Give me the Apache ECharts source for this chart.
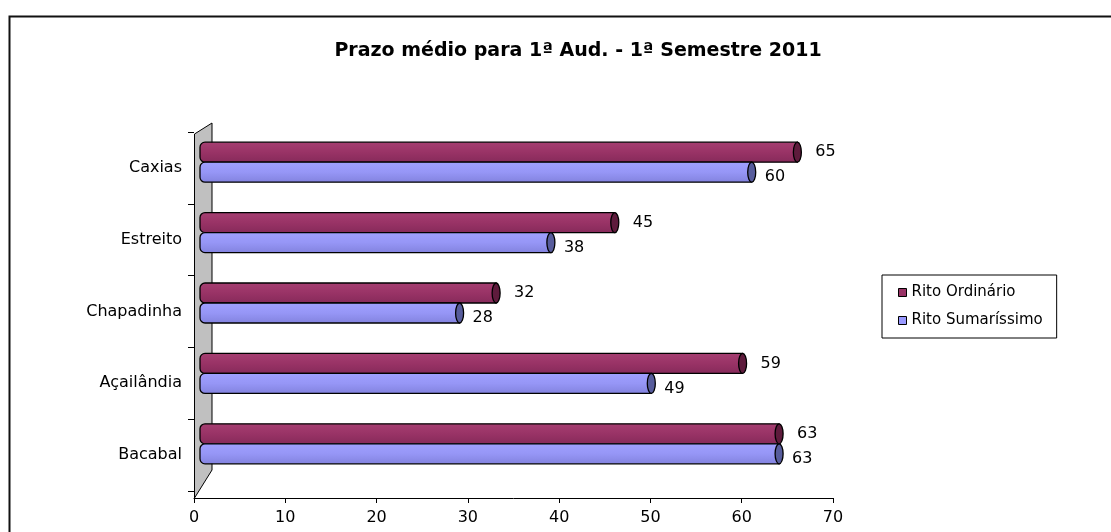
<!DOCTYPE html>
<html>
<head>
<meta charset="utf-8">
<script src="https://cdn.jsdelivr.net/npm/echarts@6/dist/echarts.min.js"></script>
<style>
  html, body { margin: 0; padding: 0; background: #fff; }
  #chart { width: 1111px; height: 532px; }
</style>
</head>
<body>
<div id="chart"></div>
<script>
// categories top to bottom
var categories = ['Caxias', 'Estreito', 'Chapadinha', 'Açailândia', 'Bacabal'];
var ordinario = [65, 45, 32, 59, 63];
var sumarissimo = [60, 38, 28, 49, 63];
var xTicks = { min: 0, max: 70, interval: 10 };

var FONT = '"DejaVu Sans", "Liberation Sans", Arial, sans-serif';

function toData(arr) {
    var out = [];
    for (var i = 0; i < arr.length; i++) {
        out.push([arr[i], i]);
    }
    return out;
}

// cylinder-like bar: body + dark end cap + value label
function cylinder(dir, stops, capColor, gap, dy) {
    return function(params, api) {
        var v = api.value(0);
        var start = api.coord([0, api.value(1)]);
        var end = api.coord([v, api.value(1)]);
        var cy = start[1] + dir * 10;
        return {
            type: 'group',
            children: [{
                type: 'rect',
                shape: { x: start[0] - 4, y: cy - 10, width: end[0] - start[0] + 4, height: 20, r: [5, 0, 0, 5] },
                style: {
                    fill: new echarts.graphic.LinearGradient(0, 0, 0, 1, stops),
                    stroke: '#000',
                    lineWidth: 1.3
                }
            }, {
                type: 'ellipse',
                shape: { cx: end[0], cy: cy, rx: 4, ry: 10 },
                style: { fill: capColor, stroke: '#000', lineWidth: 1.3 }
            }, {
                type: 'text',
                style: {
                    text: String(v),
                    x: end[0] + gap,
                    y: cy + dy,
                    verticalAlign: 'middle',
                    font: '16px ' + FONT,
                    fill: '#000'
                }
            }]
        };
    };
}

var chart = echarts.init(document.getElementById('chart'), null, { renderer: 'canvas' });

var option = {
    backgroundColor: '#fff',
    animation: false,
    title: {
        text: 'Prazo médio para 1ª Aud. - 1ª Semestre 2011',
        left: 573,
        textAlign: 'center',
        top: 37,
        textStyle: { fontFamily: FONT, fontWeight: 'bold', fontSize: 19, color: '#000' }
    },
    legend: {
        orient: 'vertical',
        left: 882,
        top: 275,
        borderColor: '#000',
        borderWidth: 1,
        padding: [10, 14, 10, 16],
        itemWidth: 8,
        itemHeight: 8,
        itemGap: 13,
        icon: 'rect',
        itemStyle: { borderColor: '#000', borderWidth: 1 },
        textStyle: { fontFamily: FONT, fontSize: 15, color: '#000' },
        data: ['Rito Ordinário', 'Rito Sumaríssimo']
    },
    grid: [
        // axes grid
        { left: 194, right: 278, top: 132, bottom: 41 },
        // bars grid (3d depth shift)
        { left: 204, right: 268, top: 127, bottom: 53 }
    ],
    xAxis: [{
        gridIndex: 0,
        type: 'value',
        min: xTicks.min,
        max: xTicks.max,
        interval: xTicks.interval,
        offset: 7,
        axisLine: { show: true, lineStyle: { color: '#000', width: 1 } },
        axisTick: { show: true, length: 5, lineStyle: { color: '#000' } },
        axisLabel: { color: '#000', fontFamily: FONT, fontSize: 16, margin: 12 },
        splitLine: { show: false }
    }, {
        gridIndex: 1,
        type: 'value',
        min: xTicks.min,
        max: xTicks.max,
        show: false
    }],
    yAxis: [{
        gridIndex: 0,
        type: 'category',
        inverse: true,
        data: categories,
        axisLine: { show: false },
        axisTick: { show: true, length: 6, lineStyle: { color: '#000' } },
        axisLabel: { color: '#000', fontFamily: FONT, fontSize: 16, margin: 12 }
    }, {
        gridIndex: 1,
        type: 'category',
        inverse: true,
        data: categories,
        show: false
    }],
    graphic: [{
        // frame
        type: 'polyline',
        shape: { points: [[9.5, 532], [9.5, 16.5], [1111, 16.5]] },
        style: { stroke: '#111', lineWidth: 2, fill: null },
        silent: true
    }, {
        // left wall
        type: 'polygon',
        shape: { points: [[194.5, 134], [212, 123], [212, 470], [194.5, 498]] },
        style: { fill: '#c0c0c0', stroke: '#000', lineWidth: 1 },
        silent: true,
        z: 1
    }],
    series: [{
        name: 'Rito Ordinário',
        type: 'custom',
        xAxisIndex: 1,
        yAxisIndex: 1,
        z: 5,
        itemStyle: { color: '#993366' },
        encode: { x: 0, y: 1 },
        renderItem: cylinder(-1, [
            { offset: 0, color: '#a63f72' },
            { offset: 0.5, color: '#993366' },
            { offset: 1, color: '#862a5a' }
        ], '#5e1b3c', 18, 0),
        data: toData(ordinario)
    }, {
        name: 'Rito Sumaríssimo',
        type: 'custom',
        xAxisIndex: 1,
        yAxisIndex: 1,
        z: 5,
        itemStyle: { color: '#9999ff' },
        encode: { x: 0, y: 1 },
        renderItem: cylinder(1, [
            { offset: 0, color: '#a0a0ff' },
            { offset: 0.5, color: '#9696f6' },
            { offset: 1, color: '#8282de' }
        ], '#575c9c', 13, 5),
        data: toData(sumarissimo)
    }]
};

chart.setOption(option);
</script>
</body>
</html>
